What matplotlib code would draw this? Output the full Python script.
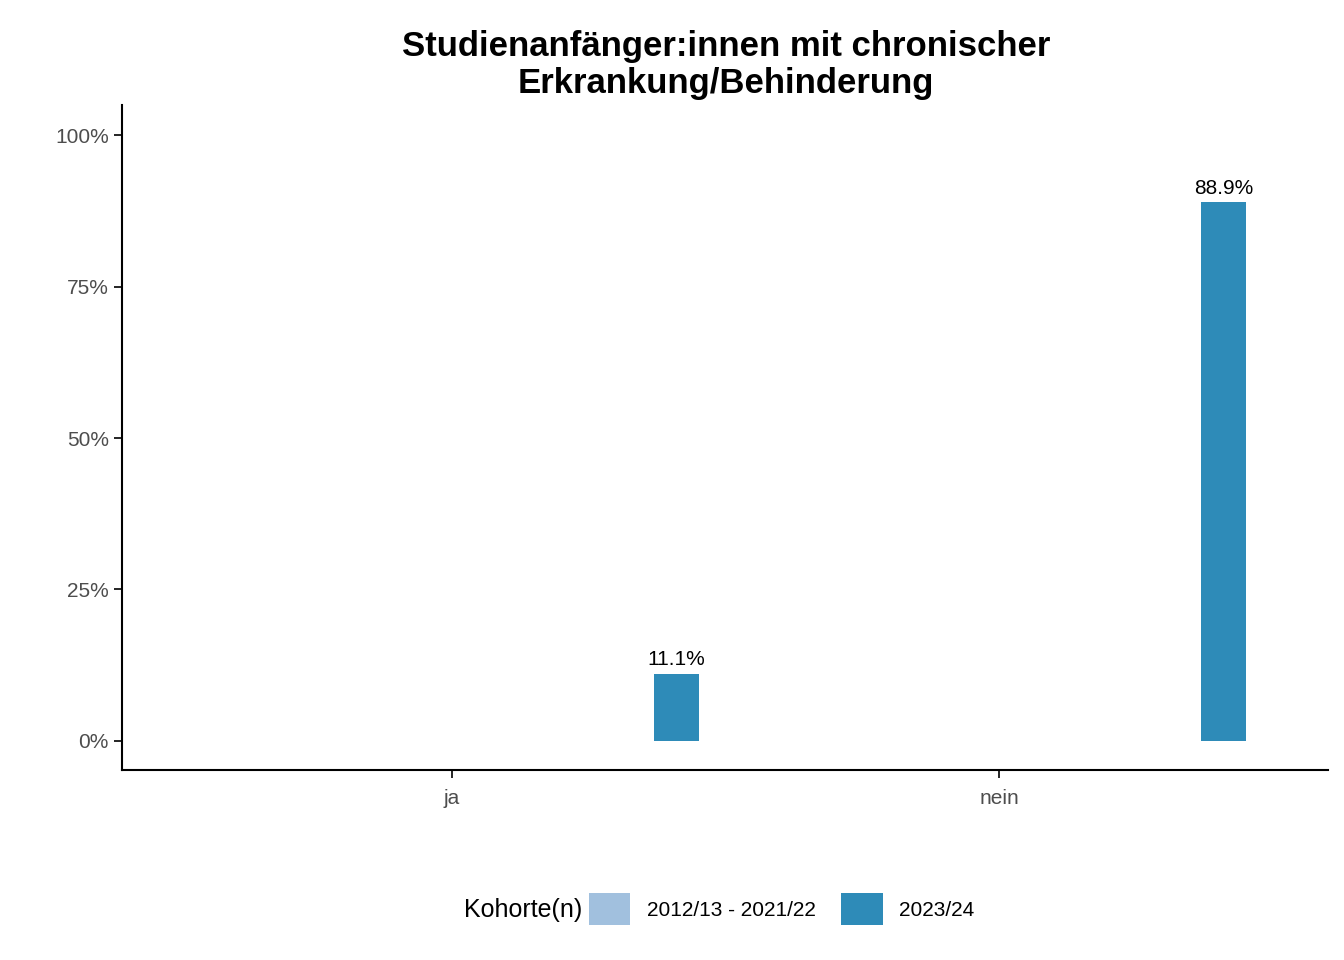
import matplotlib
matplotlib.use("Agg")
import matplotlib.pyplot as plt
from matplotlib.patches import Patch
from matplotlib.ticker import FuncFormatter

plt.rcParams['font.family'] = ['Liberation Sans', 'DejaVu Sans']

categories = ["ja", "nein"]
series = ["2012/13 - 2021/22", "2023/24"]
colors = ["#a1c0de", "#2e8bb8"]
values_2324 = [11.1, 88.9]

fig = plt.figure(figsize=(13.44, 9.6), dpi=100)
ax = fig.add_axes([0.0908, 0.198, 0.8973, 0.6927])

x = list(range(len(categories)))
offset = 0.41
bw = 0.082
xs = [i + offset for i in x]
ax.bar(xs, values_2324, width=bw, color=colors[1])
for xi, v in zip(xs, values_2324):
    ax.text(xi, v + 0.8, f"{v:.1f}%", ha="center", va="bottom", fontsize=15, color="black")

ax.set_xlim(-0.603, 1.601)
ax.set_ylim(-4.8, 105)
ax.set_xticks(x)
ax.set_xticklabels(categories)
ax.set_yticks([0, 25, 50, 75, 100])
ax.yaxis.set_major_formatter(FuncFormatter(lambda v, p: f"{v:.0f}%"))
ax.tick_params(axis="both", labelsize=15, labelcolor="#4d4d4d", length=6, width=1.2)
ax.tick_params(axis="x", pad=8)
for s in ["top", "right"]:
    ax.spines[s].set_visible(False)
for s in ["left", "bottom"]:
    ax.spines[s].set_linewidth(1.5)

fig.text(0.54, 0.9685, "Studienanfänger:innen mit chronischer\nErkrankung/Behinderung",
         ha="center", va="top", fontsize=25, fontweight="bold", linespacing=1.15)

fig.text(0.433, 0.052, "Kohorte(n)", ha="right", va="center", fontsize=18)
handles = [Patch(facecolor=c, edgecolor="none") for c in colors]
fig.legend(handles, series, loc="center left", bbox_to_anchor=(0.438, 0.053), ncol=2,
           frameon=False, fontsize=15, handlelength=2.0, handleheight=2.0,
           columnspacing=1.2, handletextpad=0.8, borderaxespad=0, borderpad=0)

fig.savefig("out.png", dpi=100)
